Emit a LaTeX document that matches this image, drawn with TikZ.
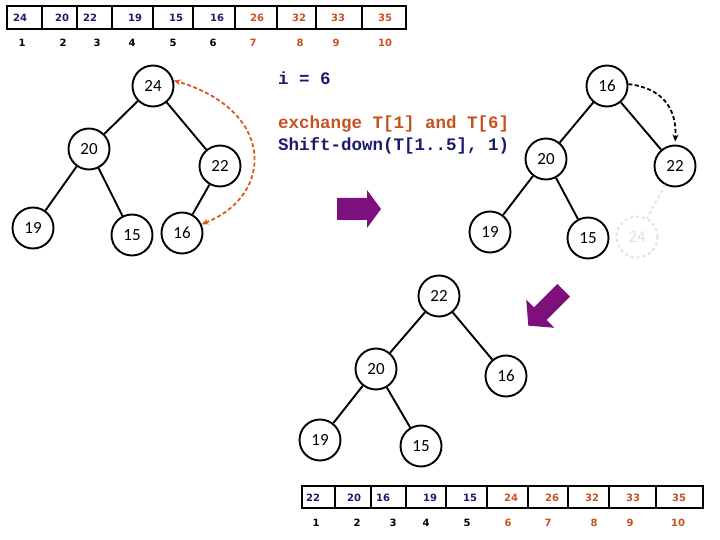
\documentclass[tikz,border=0pt]{standalone}
\usepackage{fontspec}
\setmainfont{Carlito}
\setmonofont{Liberation Mono}
\newfontfamily\arrfont{DejaVu Sans}
\usetikzlibrary{arrows.meta}
\definecolor{navy}{HTML}{1A1A6E}
\definecolor{orng}{HTML}{C8501E}
\definecolor{darr}{HTML}{E0561E}
\definecolor{purp}{HTML}{7E107E}
\definecolor{faded}{HTML}{E2E2D8}
\begin{document}
\begin{tikzpicture}[x=1pt,y=-1pt,
  hnode/.style={circle,draw,line width=1.9pt,minimum size=41pt,inner sep=0pt,font=\fontsize{17}{18}\selectfont},
  fnode/.style={circle,draw=faded,text=faded,dashed,line width=1.9pt,minimum size=41pt,inner sep=0pt,font=\fontsize{17}{18}\selectfont},
  tedge/.style={line width=1.9pt},
  cellv/.style={font=\arrfont\bfseries\fontsize{10}{11}\selectfont,inner sep=0pt},
  idx/.style={font=\arrfont\bfseries\fontsize{10}{11}\selectfont,inner sep=0pt},
  codetxt/.style={font=\ttfamily\bfseries\fontsize{17.5}{19}\selectfont,anchor=west,inner sep=0pt},
  arrbox/.style={line width=2.6pt}]
\useasboundingbox (0,0) rectangle (720,540);

% ---------- top array ----------
\draw[arrbox] (7,6) rectangle (406,29);
\foreach \x in {42,77,112,153,193,235,277,316,362} \draw[arrbox] (\x,6) -- (\x,29);
\foreach \x/\v/\c [count=\i] in {20/24/navy,62/20/navy,90/22/navy,135/19/navy,176/15/navy,217/16/navy,257/26/orng,299/32/orng,338/33/orng,385/35/orng}
  \node[cellv,text=\c] (tv\i) at (\x,18) {\v};
\foreach \x/\c [count=\i] in {22/black,63/black,97/black,132/black,173/black,213/black,253/orng,300/orng,336/orng,385/orng}
  \node[idx,text=\c] (ti\i) at (\x,43) {\i};

% ---------- bottom array ----------
\draw[arrbox] (302,486) rectangle (703,508);
\foreach \x in {335,371,406,446,487,528,568,609,656} \draw[arrbox] (\x,486) -- (\x,508);
\foreach \x/\v/\c [count=\i] in {313/22/navy,354/20/navy,383/16/navy,430/19/navy,470/15/navy,511/24/orng,552/26/orng,592/32/orng,633/33/orng,679/35/orng}
  \node[cellv,text=\c] (bv\i) at (\x,498) {\v};
\foreach \x/\c [count=\i] in {316/black,357/black,393/black,426/black,467/black,508/orng,548/orng,594/orng,630/orng,678/orng}
  \node[idx,text=\c] (bi\i) at (\x,523) {\i};

% ---------- tree 1 ----------
\node[hnode] (a1) at (153,86) {24};
\node[hnode] (a2) at (89,149) {20};
\node[hnode] (a3) at (220,166) {22};
\node[hnode] (a4) at (33,228) {19};
\node[hnode] (a5) at (132,235) {15};
\node[hnode] (a6) at (182,233) {16};
\draw[tedge] (a1) -- (a2);
\draw[tedge] (a1) -- (a3);
\draw[tedge] (a2) -- (a4);
\draw[tedge] (a2) -- (a5);
\draw[tedge] (a3) -- (a6);
\draw[darr,line width=1.8pt,dash pattern=on 4pt off 2.5pt,
  {Stealth[length=7pt,width=6pt]}-{Stealth[length=7pt,width=6pt]}]
  (a6.24) .. controls (275,195) and (275,110) .. (a1.15);

% ---------- texts ----------
\node[codetxt,text=navy] (t1) at (278,78) {i = 6};
\node[codetxt,text=orng] (t2) at (278,124) {exchange T[1] and T[6]};
\node[codetxt,text=navy] (t3) at (278,146) {Shift-down(T[1..5], 1)};

% ---------- purple arrows ----------
\fill[purp] (337,198) -- (367,198) -- (367,190) -- (381,209) -- (367,228) -- (367,220) -- (337,220) -- cycle;
\begin{scope}[shift={(546,308)},rotate=225]
  \fill[purp] (-25,-9) -- (8,-9) -- (8,-20) -- (25,0) -- (8,20) -- (8,9) -- (-25,9) -- cycle;
\end{scope}

% ---------- tree 2 ----------
\node[hnode] (b1) at (607,86) {16};
\node[hnode] (b2) at (546,159) {20};
\node[hnode] (b3) at (675,166) {22};
\node[hnode] (b4) at (490,232) {19};
\node[hnode] (b5) at (588,238) {15};
\node[fnode] (b6) at (637,237) {24};
\draw[tedge] (b1) -- (b2);
\draw[tedge] (b1) -- (b3);
\draw[tedge] (b2) -- (b4);
\draw[tedge] (b2) -- (b5);
\draw[tedge,faded,dashed] (b3) -- (b6);
\draw[line width=1.8pt,dash pattern=on 4pt off 2.5pt,-{Stealth[length=7pt,width=6pt]},shorten >=3pt]
  (b1.5) .. controls (662,88) and (677,108) .. (b3.north);

% ---------- tree 3 ----------
\node[hnode] (c1) at (439,296) {22};
\node[hnode] (c2) at (376,369) {20};
\node[hnode] (c3) at (506,376) {16};
\node[hnode] (c4) at (320,440) {19};
\node[hnode] (c5) at (421,446) {15};
\draw[tedge] (c1) -- (c2);
\draw[tedge] (c1) -- (c3);
\draw[tedge] (c2) -- (c4);
\draw[tedge] (c2) -- (c5);
\end{tikzpicture}
\end{document}
